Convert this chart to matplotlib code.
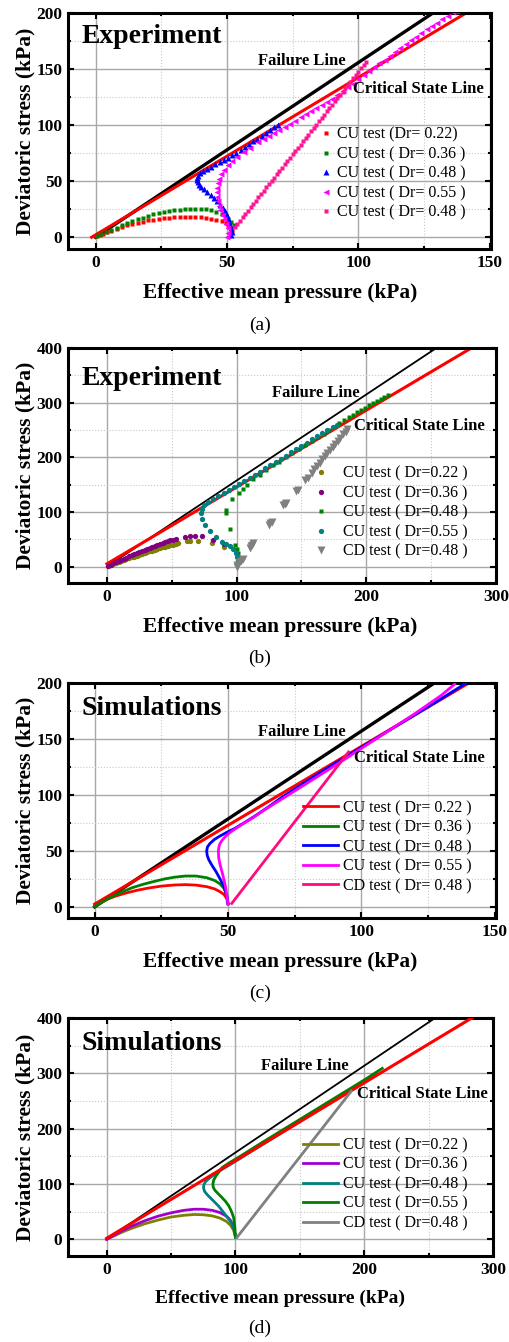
import matplotlib
matplotlib.use("Agg")
import matplotlib.pyplot as plt
from matplotlib.ticker import MultipleLocator

plt.rcParams["font.family"] = ["Liberation Serif", "DejaVu Serif"]
plt.rcParams["font.weight"] = "bold"
plt.rcParams["axes.labelweight"] = "bold"

W, H = 510, 1342

# ---------------- (a) experiment, p0 = 50 kPa ----------------
a_fail_p = [0, 128.4]
a_fail_q = [0, 200]
a_csl_p = [-1.5, 141]
a_csl_q = [0, 200]

a_cu22_p = [0.0, 1.5, 3.0, 4.5, 6.0, 8.0, 10.0, 12.0, 14.0, 16.0, 18.0, 20.0, 22.0, 24.0, 26.0,
            28.0, 30.0, 32.0, 34.0, 36.0, 38.0, 40.0, 42.0, 44.0, 46.0, 48.0, 49.5, 50.5, 51.5, 52.0]
a_cu22_q = [1.0, 2.0, 3.2, 4.5, 5.8, 7.5, 9.0, 10.5, 11.8, 13.0, 14.0, 15.0, 15.8, 16.4, 17.0,
            17.4, 17.8, 18.0, 18.1, 18.1, 18.0, 17.6, 17.0, 16.4, 15.6, 14.2, 12.5, 10.5, 8.0, 5.5]
a_cu36_p = [0.5, 2, 4, 6, 8, 10, 12, 14, 16, 18, 20, 22, 24, 26, 28, 30, 32, 34, 36, 38, 40, 42,
            44, 46, 48, 49.5, 50.5, 51.5, 52.5]
a_cu36_q = [0.8, 2.5, 4.5, 6.2, 8.3, 10.5, 12.5, 14.3, 16.0, 17.5, 19.0, 20.3, 21.5, 22.5, 23.3,
            24.0, 24.6, 25.0, 25.3, 25.5, 25.3, 24.8, 24.0, 22.8, 21.0, 19.0, 16.5, 13.5, 10.5]
a_cu48_p = [51.5, 51.8, 51.6, 51.3, 50.9, 50.5, 50.0, 49.3, 48.4, 47.4, 46.3, 45.1, 43.8, 42.5,
            41.3, 40.3, 39.5, 38.9, 38.6, 38.6, 39.0, 39.8, 41.0, 42.5, 44.0, 45.6, 47.2, 48.8,
            50.4, 52.0, 53.6, 55.2, 56.8, 58.4, 60.0, 61.6, 63.2, 64.8, 66.4, 68.0, 69.5]
a_cu48_q = [2, 5, 8, 11, 14, 17, 20, 23, 26, 29, 32, 35, 38, 40.5, 43, 45, 47, 49, 51, 53, 55,
            57, 59, 61, 63, 65, 67, 69, 71, 73, 75.5, 78, 80.5, 83, 85.5, 88, 90.5, 93, 95.5, 98,
            100]
a_cu55_p = [50.0, 50.4, 50.3, 49.6, 48.8, 48.0, 47.3, 46.8, 46.5, 46.3, 46.2, 46.3, 46.6, 47.1,
            47.9, 49.0, 50.4, 52.0, 54.0, 56.3, 58.8, 62, 64, 66, 68, 70, 72, 74, 76, 78, 80, 82,
            84, 86, 88, 90, 92, 94, 96, 98, 100, 102, 104, 106, 108, 110, 112, 114, 116, 118,
            120, 122, 124, 126, 128, 130, 132, 134, 136, 137]
a_cu55_q = [0, 4, 8, 12, 16, 20, 24, 28, 32, 36, 40, 44, 48, 52, 56, 60, 64, 68, 72, 76, 80,
            84.5, 87.2, 90, 92.8, 95.6, 98.4, 101.2, 104, 106.8, 109.6, 112.4, 115.2, 118, 120.8,
            123.6, 126.6, 130, 134, 137, 141, 144.5, 148, 151.5, 155, 158.5, 162, 165.5, 169,
            172.3, 175.5, 178.8, 182, 185.3, 188.5, 191.5, 194.5, 197.5, 200.5, 202]
a_cd48_p = [53, 54, 55, 56, 57, 58, 59, 60, 61, 62, 63, 64, 65, 66, 67, 68, 69, 70, 71, 72, 73,
            74, 75, 76, 77, 78, 79, 80, 81, 82, 83, 84, 85, 86, 87, 88, 89, 90, 91, 92, 93, 94,
            95, 96, 97, 98, 99, 100, 101, 102, 103]
a_cd48_q = [9.0, 12.0, 14.9, 17.8, 20.8, 23.7, 26.7, 29.6, 32.6, 35.5, 38.5, 41.4, 44.4, 47.3,
            50.3, 53.2, 56.2, 59.1, 62.1, 65.0, 68.0, 70.9, 73.9, 76.8, 79.8, 82.7, 85.7, 88.6,
            91.6, 94.5, 97.5, 100.4, 103.4, 106.3, 109.3, 112.2, 115.2, 118.1, 121.1, 124.0,
            127.0, 129.9, 132.9, 135.8, 138.8, 141.7, 144.7, 147.6, 150.6, 153.5, 156.5]
a_labels = ["CU test (Dr= 0.22)", "CU test ( Dr= 0.36 )", "CU test ( Dr= 0.48 )",
            "CU test ( Dr= 0.55 )", "CU test ( Dr= 0.48 )"]

# ---------------- (b) experiment, p0 = 100 kPa ----------------
b_fail_p = [0, 254]
b_fail_q = [0, 400]
b_csl_p = [0, 281]
b_csl_q = [5, 400]

b_cu22_p = [1, 3, 5, 7, 9, 11, 13, 15, 17, 19, 21, 23, 25, 27, 29, 31, 33, 35, 37, 39, 41, 43,
            45, 47, 49, 51, 53, 55, 62, 64, 70, 81, 90]
b_cu22_q = [1.0, 2.8, 4.6, 6.4, 8.2, 10.0, 11.7, 13.4, 15.1, 16.8, 18.4, 20.0, 21.6, 23.2, 24.8,
            26.3, 27.8, 29.3, 30.8, 32.2, 33.6, 35.0, 36.4, 37.7, 39.0, 40.3, 41.6, 42.8, 46.5,
            47.0, 46.0, 43.0, 35.5]
b_cu36_p = [1, 3, 5, 7, 9, 11, 13, 15, 17, 19, 21, 23, 25, 27, 29, 31, 33, 35, 37, 39, 41, 43,
            45, 47, 49, 51, 53, 60, 64, 68, 73, 82, 90]
b_cu36_q = [1.2, 3.5, 5.8, 8.0, 10.0, 12.2, 14.3, 16.4, 18.5, 20.5, 22.5, 24.5, 26.5, 28.5,
            30.5, 32.4, 34.3, 36.2, 38.0, 39.8, 41.5, 43.2, 44.8, 46.3, 47.8, 49.2, 50.5, 53.5,
            55.5, 56.8, 55.5, 49.5, 41.5]
b_cu48_p = [101, 101, 101, 100.5, 99, 95, 92, 91.8, 96.4, 101.6, 105, 108, 113, 118, 123, 128,
            133, 138, 143, 148, 153, 158, 163, 167, 171, 175, 179, 183, 187, 190, 193, 196, 199,
            202, 205, 208, 211, 214, 217]
b_cu48_q = [8, 17, 25, 32.5, 40, 69, 98, 104, 124, 135, 142, 150, 160, 168, 177, 185, 192, 200,
            208, 215, 222, 230, 237, 243, 250, 256, 262, 268, 274, 278, 282, 287, 291, 295, 299,
            303, 307, 311, 314]
b_cu55_p = [101.5, 101, 100.5, 99.5, 97.5, 95, 92, 88.5, 84, 79.5, 76, 73.5, 72.8, 73.5, 75, 78,
            82, 86, 90, 94, 98, 102, 106, 110, 114, 118, 122, 126, 130, 134, 138, 142, 146, 150,
            154, 158, 162, 166, 170, 174, 177.5]
b_cu55_q = [8, 12, 17, 24, 32, 38, 42, 45, 55, 65, 76, 88, 98, 106, 113, 118, 123, 129, 134.5,
            140, 145.5, 151, 156.5, 162, 168, 174, 180, 185.5, 191, 197, 203, 209, 215, 221, 227,
            233, 239, 244.5, 250, 255, 259]
b_cd48_p = [100, 100.5, 102, 103.5, 105, 110, 111, 112, 113, 125, 126, 127, 136, 137, 138, 146,
            147, 153, 155, 158, 160, 162, 164, 166, 168, 170, 172, 174, 176, 178, 180, 182, 184,
            185]
b_cd48_q = [0, 3, 8, 11, 13, 34, 37, 40, 43, 77, 80, 82, 112, 114, 116, 139, 141, 158, 163, 172,
            178, 184, 190, 196, 202, 207, 213, 219, 225, 230, 236, 242, 247, 251]
b_labels = ["CU test ( Dr=0.22 )", "CU test ( Dr=0.36 )", "CU test ( Dr=0.48 )",
            "CU test ( Dr=0.55 )", "CD test ( Dr=0.48 )"]

# ---------------- (c) simulations, p0 = 50 kPa ----------------
c_fail_p = [0, 127.4]
c_fail_q = [0, 200]
c_csl_p = [0, 140.3]
c_csl_q = [2.4, 200]

c_cu22_p = [0, 2, 5, 8, 12, 16, 20, 25, 30, 34, 38, 42, 45, 47, 48.5, 49.5, 50]
c_cu22_q = [0.5, 3.5, 7.0, 9.7, 12.5, 14.8, 16.7, 18.5, 19.5, 19.8, 19.4, 18.0, 16.0, 13.5,
            11.0, 7.5, 3.0]
c_cu36_p = [0, 3, 6, 10, 14, 18, 22, 26, 30, 34, 38, 42, 45, 47, 48.5, 49.5, 50]
c_cu36_q = [0.3, 4.5, 8.5, 13.0, 17.0, 20.0, 22.5, 24.8, 26.5, 27.5, 27.5, 26.0, 23.5, 20.5,
            16.5, 11.0, 3.0]
c_cu48_p = [50, 49.5, 48.5, 47, 45.5, 44, 42.8, 42.2, 42.0, 42.3, 43.2, 44.8, 46.8, 49.5, 52.5,
            56, 60, 65, 70, 80, 90, 100, 110, 120, 130, 139]
c_cu48_q = [2.5, 10, 18, 25, 31.5, 37, 42, 46, 50, 53.5, 56.5, 60, 63, 66.5, 70, 75, 81, 89,
            97.5, 113, 128, 142.5, 157, 171.5, 186, 199.5]
c_cu55_p = [50, 49.6, 48.9, 48.0, 47.0, 46.5, 46.4, 46.6, 47.0, 47.8, 48.9, 50.5, 52.6, 55.5, 59,
            63, 70, 80, 90, 100, 110, 120, 130, 135]
c_cu55_q = [2.5, 10, 20, 29, 38, 44, 50, 53.5, 56.5, 59.5, 62.5, 66, 69.5, 74, 79, 85.5, 96,
            111, 126, 141.5, 157, 172.5, 189, 199]
c_cd48_p = [51.4, 95.2]
c_cd48_q = [3.0, 138.4]
c_labels = ["CU test ( Dr= 0.22 )", "CU test ( Dr= 0.36 )", "CU test ( Dr= 0.48 )",
            "CU test ( Dr= 0.55 )", "CD test ( Dr= 0.48 )"]

# ---------------- (d) simulations, p0 = 100 kPa ----------------
d_fail_p = [0, 255]
d_fail_q = [0, 400]
d_csl_p = [0, 283.5]
d_csl_q = [2, 400]

d_cu22_p = [0, 5, 10, 15, 20, 30, 40, 50, 60, 68, 75, 82, 88, 93, 96, 98.5, 100]
d_cu22_q = [0, 5.5, 11, 16, 20.5, 28.5, 35, 40.5, 43.5, 45, 44.5, 42.5, 38.5, 32.5, 26, 17, 5]
d_cu36_p = [0, 5, 10, 15, 20, 30, 40, 50, 60, 68, 75, 82, 88, 93, 96, 98.5, 100]
d_cu36_q = [0, 6.5, 13, 19, 24.5, 34, 42, 48, 52.5, 54.5, 54.5, 52.5, 48.5, 42, 35, 24, 6]
d_cu48_p = [100, 99.5, 98.5, 96, 93, 90, 87, 84, 81, 78, 76, 75.2, 75.5, 77, 80, 84, 90, 100,
            120, 140, 160, 180, 200, 210]
d_cu48_q = [4, 12, 22, 33, 42, 51, 60, 67, 74, 81, 87, 93, 99, 105, 111, 118, 127, 141, 170,
            198.5, 227, 255.5, 284, 298]
d_cu55_p = [100, 99.6, 98.7, 97, 95, 92.2, 89, 86, 84, 82.8, 82.5, 83.1, 85, 89.6, 95, 105, 120,
            140, 160, 180, 200, 214]
d_cu55_q = [4, 20, 38.8, 50, 60, 69, 77, 84, 89, 94, 100, 107, 115, 129.7, 138, 152, 174, 202.5,
            231, 259.5, 288, 309]
d_cd48_p = [101.3, 190]
d_cd48_q = [3.9, 268]
d_labels = ["CU test ( Dr=0.22 )", "CU test ( Dr=0.36 )", "CU test ( Dr=0.48 )",
            "CU test ( Dr=0.55 )", "CD test ( Dr=0.48 )"]


def px_axes(left, top, right, bottom):
    return [left / W, 1 - bottom / H, (right - left) / W, (bottom - top) / H]


def style_axes(ax, xlim, ylim, xmaj, ymaj):
    ax.set_xlim(*xlim)
    ax.set_ylim(*ylim)
    ax.xaxis.set_major_locator(MultipleLocator(xmaj))
    ax.xaxis.set_minor_locator(MultipleLocator(xmaj / 2))
    ax.yaxis.set_major_locator(MultipleLocator(ymaj))
    ax.yaxis.set_minor_locator(MultipleLocator(ymaj / 2))
    ax.set_axisbelow(True)
    ax.grid(which="major", color="#a8a8a8", lw=1.0)
    ax.grid(which="minor", color="#c8c8c8", lw=0.8, ls=":")
    ax.tick_params(which="both", direction="in", top=True, right=True, width=1.5,
                   labelsize=12.5, pad=4)
    ax.tick_params(which="major", length=4)
    ax.tick_params(which="minor", length=2.5)
    for s in ax.spines.values():
        s.set_linewidth(2.2)
    for lab in ax.get_xticklabels() + ax.get_yticklabels():
        lab.set_fontweight("bold")


def annotate(ax, title, title_y, fail_xy, csl_xy):
    ax.text(0.032, title_y, title, transform=ax.transAxes, fontsize=20,
            fontweight="bold", va="center", ha="left")
    ax.text(fail_xy[0], fail_xy[1], "Failure Line", transform=ax.transAxes,
            fontsize=12, fontweight="bold", va="center", ha="left")
    ax.text(csl_xy[0], csl_xy[1], "Critical State Line", transform=ax.transAxes,
            fontsize=12, fontweight="bold", va="center", ha="left")


def outer_labels(fig, ax_top, ax_bottom, xlab_y, cap_y, cap, xfs=15.4):
    yc = (ax_top + ax_bottom) / 2
    fig.text(25 / W, 1 - yc / H, "Deviatoric stress (kPa)", rotation=90,
             ha="center", va="center", fontsize=15.5, fontweight="bold")
    fig.text(280 / W, 1 - xlab_y / H, "Effective mean pressure (kPa)",
             ha="center", va="center", fontsize=xfs, fontweight="bold")
    fig.text(260 / W, 1 - cap_y / H, cap, ha="center", va="center",
             fontsize=14, fontweight="normal")


def add_legend(ax, x, y, hl, htp):
    ax.legend(loc="upper left", bbox_to_anchor=(x, y), frameon=False,
              prop={"size": 11.5, "weight": "normal"}, handlelength=hl,
              handletextpad=htp, labelspacing=0.22, borderpad=0, borderaxespad=0)


fig = plt.figure(figsize=(W / 100, H / 100), dpi=100)

# (a)
ax = fig.add_axes(px_axes(68, 13, 491, 249))
ax.plot(a_fail_p, a_fail_q, color="black", lw=2.4, zorder=2)
ax.plot(a_csl_p, a_csl_q, color="red", lw=2.2, zorder=2)
ax.plot(a_cu22_p, a_cu22_q, "s", color="red", ms=2.5, mec="none", label=a_labels[0], zorder=3)
ax.plot(a_cu36_p, a_cu36_q, "s", color="#008000", ms=2.5, mec="none", label=a_labels[1], zorder=3)
ax.plot(a_cu48_p, a_cu48_q, "^", color="blue", ms=4.5, mec="none", label=a_labels[2], zorder=3)
ax.plot(a_cu55_p, a_cu55_q, "<", color="#ff00ff", ms=4.5, mec="none", label=a_labels[3], zorder=3)
ax.plot(a_cd48_p, a_cd48_q, "s", color="#ff1493", ms=2.5, mec="none", label=a_labels[4], zorder=3)
style_axes(ax, (-10.5, 150.5), (-10.5, 200), 50, 50)
annotate(ax, "Experiment", 0.90, (0.45, 0.797), (0.673, 0.678))
add_legend(ax, 0.59, 0.518, 1.0, 0.2)
outer_labels(fig, 13, 249, 293, 325, "(a)")

# (b)
ax = fig.add_axes(px_axes(68, 348, 496, 583))
ax.plot(b_fail_p, b_fail_q, color="black", lw=1.3, zorder=2)
ax.plot(b_csl_p, b_csl_q, color="red", lw=2.2, zorder=2)
ax.plot(b_cu22_p, b_cu22_q, "o", color="#808000", ms=3.8, mec="none", label=b_labels[0], zorder=3)
ax.plot(b_cu36_p, b_cu36_q, "o", color="#800080", ms=3.8, mec="none", label=b_labels[1], zorder=3)
ax.plot(b_cu48_p, b_cu48_q, "s", color="#008000", ms=3.0, mec="none", label=b_labels[2], zorder=3)
ax.plot(b_cu55_p, b_cu55_q, "o", color="#008080", ms=3.8, mec="none", label=b_labels[3], zorder=3)
ax.plot(b_cd48_p, b_cd48_q, "v", color="#808080", ms=5.2, mec="none", label=b_labels[4], zorder=3)
style_axes(ax, (-30, 300), (-30, 400), 100, 100)
annotate(ax, "Experiment", 0.871, (0.476, 0.807), (0.668, 0.669))
add_legend(ax, 0.562, 0.499, 1.5, 0.66)
outer_labels(fig, 348, 583, 627, 658, "(b)")

# (c)
ax = fig.add_axes(px_axes(68, 683, 496, 918))
ax.plot(c_fail_p, c_fail_q, color="black", lw=2.4, zorder=2)
ax.plot(c_csl_p, c_csl_q, color="red", lw=2.2, zorder=2)
ax.plot(c_cu22_p, c_cu22_q, color="red", lw=2.0, label=c_labels[0], zorder=3)
ax.plot(c_cu36_p, c_cu36_q, color="#008000", lw=2.0, label=c_labels[1], zorder=3)
ax.plot(c_cu48_p, c_cu48_q, color="blue", lw=2.0, label=c_labels[2], zorder=3)
ax.plot(c_cu55_p, c_cu55_q, color="#ff00ff", lw=2.0, label=c_labels[3], zorder=3)
ax.plot(c_cd48_p, c_cd48_q, color="#ff0a80", lw=2.0, label=c_labels[4], zorder=3)
style_axes(ax, (-10, 150.5), (-10, 200), 50, 50)
annotate(ax, "Simulations", 0.892, (0.444, 0.793), (0.669, 0.68))
add_legend(ax, 0.549, 0.502, 2.2, 0.33)
outer_labels(fig, 683, 918, 962, 993, "(c)")

# (d)
ax = fig.add_axes(px_axes(68, 1018, 493, 1256))
ax.plot(d_fail_p, d_fail_q, color="black", lw=1.3, zorder=2)
ax.plot(d_cu22_p, d_cu22_q, color="#808000", lw=2.0, label=d_labels[0], zorder=3)
ax.plot(d_cu36_p, d_cu36_q, color="#a000cc", lw=2.0, label=d_labels[1], zorder=3)
ax.plot(d_cu48_p, d_cu48_q, color="#008080", lw=2.0, label=d_labels[2], zorder=3)
ax.plot(d_cu55_p, d_cu55_q, color="#008000", lw=2.0, label=d_labels[3], zorder=3)
ax.plot(d_csl_p, d_csl_q, color="red", lw=2.2, zorder=3)
ax.plot(d_cd48_p, d_cd48_q, color="#808080", lw=2.0, label=d_labels[4], zorder=3)
style_axes(ax, (-30, 300), (-30, 400), 100, 100)
annotate(ax, "Simulations", 0.894, (0.454, 0.80), (0.681, 0.679))
add_legend(ax, 0.552, 0.499, 2.2, 0.33)
outer_labels(fig, 1018, 1256, 1298, 1328, "(d)", xfs=14)

fig.savefig("out.png", dpi=100)
